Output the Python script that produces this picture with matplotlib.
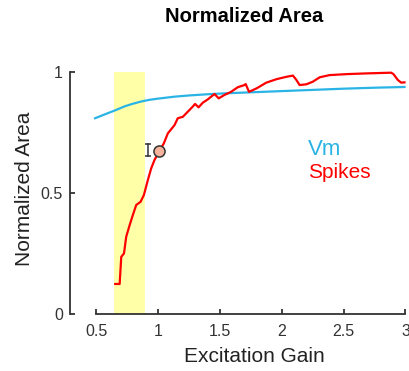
import matplotlib.pyplot as plt

plt.rcParams['font.family'] = ['Liberation Sans', 'DejaVu Sans']

# excitation gain vs normalized area
spikes_x = [0.653, 0.689, 0.702, 0.724, 0.742, 0.770, 0.796, 0.823, 0.858, 0.885,
            0.917, 0.944, 0.971, 1.012, 1.046, 1.079, 1.105, 1.133, 1.159, 1.200,
            1.240, 1.280, 1.299, 1.327, 1.361, 1.402, 1.456, 1.490, 1.536, 1.590,
            1.644, 1.698, 1.708, 1.735, 1.795, 1.875, 1.956, 2.037, 2.090, 2.118,
            2.144, 2.198, 2.252, 2.306, 2.386, 2.521, 2.682, 2.884, 2.903, 2.938,
            2.965, 2.992]
spikes_y = [0.124, 0.124, 0.236, 0.250, 0.319, 0.367, 0.409, 0.450, 0.463, 0.491,
            0.553, 0.601, 0.636, 0.674, 0.704, 0.746, 0.762, 0.780, 0.808, 0.814,
            0.835, 0.856, 0.867, 0.853, 0.872, 0.886, 0.908, 0.890, 0.904, 0.917,
            0.936, 0.945, 0.949, 0.917, 0.931, 0.955, 0.969, 0.979, 0.984, 0.966,
            0.945, 0.948, 0.959, 0.977, 0.986, 0.990, 0.993, 0.996, 0.990, 0.966,
            0.955, 0.956]

vm_x = [0.49, 0.594, 0.65, 0.729, 0.79, 0.863, 0.93, 1.0, 1.133, 1.25, 1.40,
        1.55, 1.70, 1.85, 2.0, 2.252, 2.5, 2.75, 2.992]
vm_y = [0.808, 0.829, 0.840, 0.857, 0.867, 0.877, 0.884, 0.889, 0.897, 0.902, 0.907,
        0.911, 0.914, 0.917, 0.920, 0.925, 0.930, 0.934, 0.937]

band = (0.643, 0.895)
point_x, point_y = 1.01, 0.674
err_x, err_lo, err_hi = 0.917, 0.654, 0.700

xticks = [0.5, 1, 1.5, 2, 2.5, 3]
xticklabels = ['0.5', '1', '1.5', '2', '2.5', '3']
yticks = [0, 0.5, 1]
yticklabels = ['0', '0.5', '1']

fig = plt.figure(figsize=(4.09, 3.71), dpi=100)
ax = fig.add_axes([0.1711, 0.1536, 0.8203, 0.6531])

ax.axvspan(band[0], band[1], color='#ffffa8', lw=0, zorder=0)
ax.plot(vm_x, vm_y, color='#2ab4e6', lw=1.6, clip_on=False)
ax.plot(spikes_x, spikes_y, color='#ff0000', lw=1.6, clip_on=False)
ax.plot([err_x, err_x], [err_lo, err_hi], color='#333333', lw=1.1)
ax.plot([err_x, err_x], [err_lo, err_hi], ls='none', marker='_', ms=4,
        mew=1.1, color='#333333')
ax.plot(point_x, point_y, 'o', ms=8, mfc='#f5b29c', mec='#333333', mew=1.1, zorder=5)

ax.text(2.21, 0.656, 'Vm', color='#2ab4e6', fontsize=16)
ax.text(2.21, 0.586, 'Spikes', color='#ff0000', fontsize=15, va='center')

ax.set_xlim(0.2874, 3.0)
ax.set_ylim(0, 1)
ax.set_xticks(xticks)
ax.set_xticklabels(xticklabels)
ax.set_yticks(yticks)
ax.set_yticklabels(yticklabels)
ax.tick_params(direction='in', length=3.5, width=1.3, color='#333333',
               labelcolor='#333333', labelsize=11.5)
ax.tick_params(axis='x', pad=7)
ax.tick_params(axis='y', pad=5)

for s in ['top', 'right']:
    ax.spines[s].set_visible(False)
for s in ['left', 'bottom']:
    ax.spines[s].set_color('#333333')
    ax.spines[s].set_linewidth(1.3)
ax.spines['bottom'].set_bounds(0.5, 3)
ax.spines['left'].set_bounds(0, 1)

fig.text(0.598, 1 - 17 / 371, 'Normalized Area', ha='center', va='center',
         fontsize=14.5, fontweight='bold')
fig.text(0.623, 1 - 357 / 371, 'Excitation Gain', ha='center', va='center',
         fontsize=15, color='#222222')
fig.text(0.061, 0.4906, 'Normalized Area', ha='center', va='center',
         rotation=90, fontsize=15, color='#222222')

fig.savefig('out.png', dpi=100)
